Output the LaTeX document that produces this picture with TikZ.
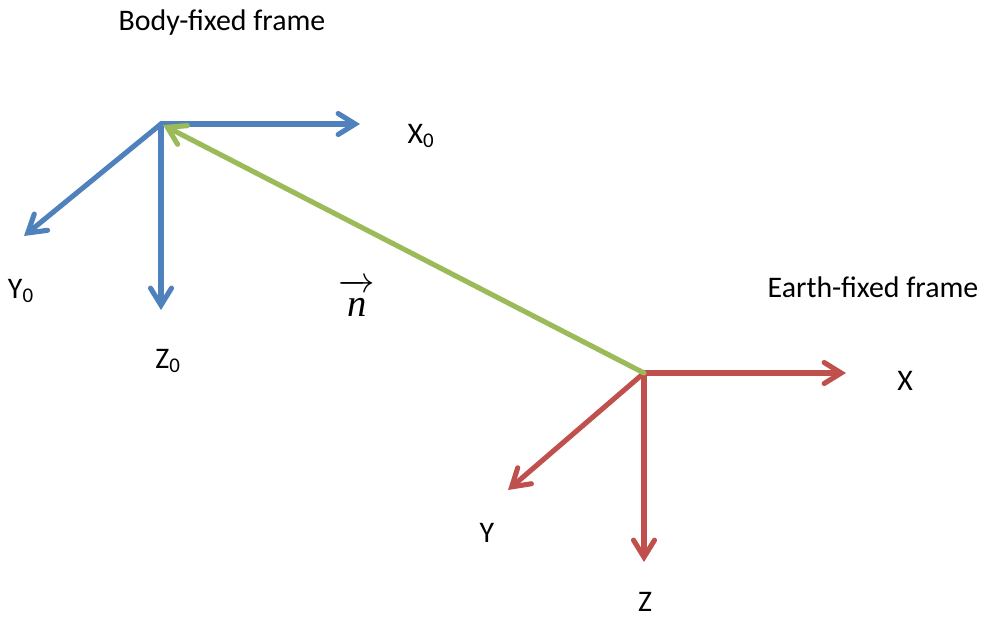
\documentclass[tikz,border=0pt]{standalone}
\usepackage{fontspec}
\setmainfont{Carlito}
\newfontfamily\timesfont{Liberation Serif}
\usepackage{amsmath}
\usetikzlibrary{arrows.meta,positioning}
\definecolor{AxisBlue} {HTML}{4F81BD}
\definecolor{AxisRed}  {HTML}{C0504D}
\definecolor{VecGreen} {HTML}{9BBB59}
\tikzset{
  axarr/.style={-{Straight Barb[length=0.34cm,width=0.42cm,line cap=round]},
                line width=2.9pt,line cap=round,color=#1},
  lbl/.style={font=\fontsize{17}{20}\selectfont,inner sep=0pt},
}

\begin{document}
\begin{tikzpicture}[x=0.02cm,y=-0.02cm]
  \useasboundingbox (0,0) rectangle (982,616);

  % body-fixed frame
  \coordinate (B)  at (161,124);
  \coordinate (BX) at (360,124);
  \coordinate (BY) at (24,236);
  \coordinate (BZ) at (161,310);
  \node[lbl] (BT)  at (222,23) {Body-fixed frame};
  \node[lbl] (X0)  at (421,136) {X\textsubscript{0}};
  \node[lbl] (Y0)  at (21,291) {Y\textsubscript{0}};
  \node[lbl] (Z0)  at (168,361) {Z\textsubscript{0}};

  % earth-fixed frame
  \coordinate (E)  at (644,373);
  \coordinate (EX) at (846,373);
  \coordinate (EY) at (508,490);
  \coordinate (EZ) at (644,562);
  \node[lbl] (ET)  at (873,287) {Earth-fixed frame};
  \node[lbl] (XE)  at (905,381) {X};
  \node[lbl] (YE)  at (487,533) {Y};
  \node[lbl] (ZE)  at (645,602) {Z};

  \node[inner sep=0pt,font=\fontsize{22}{24}\selectfont] (N) at (357,298)
    {$\overrightarrow{\mbox{\timesfont\itshape n}\rule{0pt}{0.62em}}$};

  \draw[axarr=AxisBlue] (B) -- (BX);
  \draw[axarr=AxisBlue] (B) -- (BY);
  \draw[axarr=AxisBlue] (B) -- (BZ);

  \draw[axarr=AxisRed] (E) -- (EX);
  \draw[axarr=AxisRed] (E) -- (EY);
  \draw[axarr=AxisRed] (E) -- (EZ);

  \draw[axarr=VecGreen] (E) -- ([shift={(2,1)}]B);

\end{tikzpicture}
\end{document}
